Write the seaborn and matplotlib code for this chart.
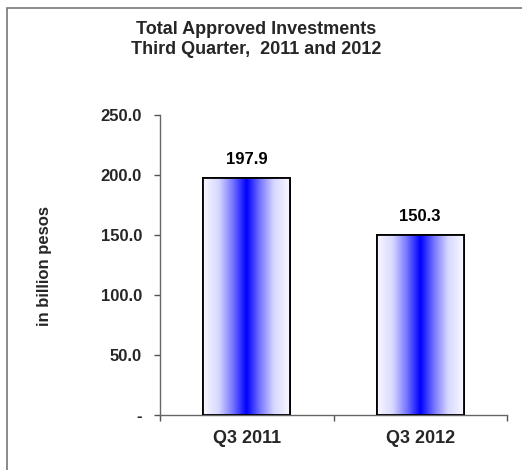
import numpy as np
import pandas as pd
import matplotlib
matplotlib.use("Agg")
import matplotlib.pyplot as plt
import seaborn as sns
from matplotlib.colors import LinearSegmentedColormap
from matplotlib.patches import Rectangle

quarters = ["Q3 2011", "Q3 2012"]
investments = [197.9, 150.3]
y_ticks = [0, 50, 100, 150, 200, 250]
y_tick_labels = ["-", "50.0", "100.0", "150.0", "200.0", "250.0"]

sns.set_theme(style="white")
plt.rcParams["font.family"] = ["Liberation Sans", "DejaVu Sans"]
plt.rcParams["font.weight"] = "bold"

df = pd.DataFrame({"quarter": quarters, "value": investments})

fig = plt.figure(figsize=(5.22, 4.70), dpi=100)
ax = fig.add_axes([160 / 522, 55 / 470, 347 / 522, 300 / 470])

sns.barplot(data=df, x="quarter", y="value", ax=ax, width=0.5,
            color="white", edgecolor="black", linewidth=1.3, zorder=2)

# horizontal white-blue-white shading inside every bar
shade = LinearSegmentedColormap.from_list(
    "shade",
    [(0.0, "#f8f8ff"), (0.18, "#d8d8ff"), (0.34, "#7878ff"), (0.5, "#0000ff"),
     (0.66, "#7878ff"), (0.82, "#d8d8ff"), (1.0, "#f8f8ff")])
grad = np.linspace(0, 1, 256).reshape(1, -1)
for patch in ax.patches:
    x0, y0 = patch.get_x(), patch.get_y()
    w, h = patch.get_width(), patch.get_height()
    im = ax.imshow(grad, cmap=shade, aspect="auto", extent=[x0, x0 + w, y0, y0 + h],
                   interpolation="bilinear", zorder=2.5)
    im.set_clip_path(patch)
    outline = Rectangle((x0, y0), w, h, fill=False, edgecolor="black",
                        linewidth=1.3, zorder=3)
    ax.add_patch(outline)
    ax.text(x0 + w / 2, y0 + h + 15, f"{h:.1f}", ha="center", va="center",
            fontsize=12, fontweight="bold", color="black")

ax.set_xlim(-0.5, 1.5)
ax.set_ylim(0, 250)
ax.set_yticks(y_ticks)
ax.set_yticklabels(y_tick_labels)
ax.set_xticks([-0.5, 0.5, 1.5], minor=True)
ax.tick_params(axis="x", which="major", length=0, pad=11, labelsize=13)
ax.tick_params(axis="x", which="minor", length=4, width=1, color="#555555", direction="out", bottom=True)
ax.tick_params(axis="y", length=4, width=1, color="#555555", direction="out", left=True,
               pad=9, labelsize=12)
for lbl in ax.get_xticklabels() + ax.get_yticklabels():
    lbl.set_fontweight("bold")

ax.set_xlabel("")
ax.set_ylabel("")
fig.text(45 / 522, 1 - 266 / 470, "in billion pesos", rotation=90, ha="center", va="center",
         fontsize=12, fontweight="bold")
for side in ["top", "right"]:
    ax.spines[side].set_visible(False)
for side in ["left", "bottom"]:
    ax.spines[side].set_color("#666666")
    ax.spines[side].set_linewidth(1)

fig.text(256 / 522, 1 - 30 / 470, "Total Approved Investments",
         ha="center", va="center", fontsize=13, fontweight="bold")
fig.text(256 / 522, 1 - 50 / 470, "Third Quarter,  2011 and 2012",
         ha="center", va="center", fontsize=13, fontweight="bold")

# frame around the chart area
fig.patches.append(Rectangle((7 / 522, -0.1), 1.2, 1.1 - 8 / 470, transform=fig.transFigure,
                             fill=False, edgecolor="#777777", linewidth=1.2))

fig.savefig("out.png", dpi=100)
